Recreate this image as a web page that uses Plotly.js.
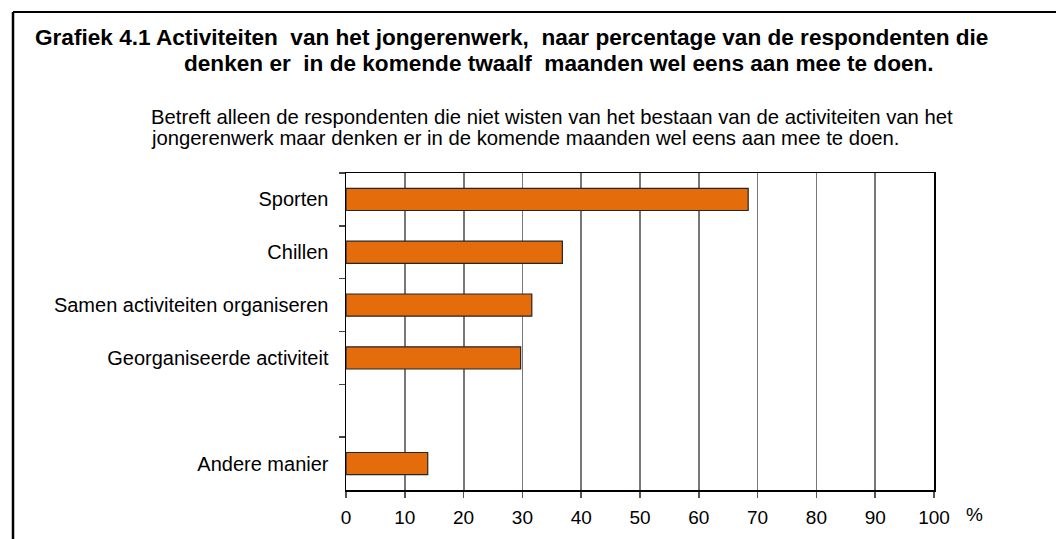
<!DOCTYPE html>
<html>
<head>
<meta charset="utf-8">
<script src="https://cdn.plot.ly/plotly-3.0.1.min.js"></script>
<style>html,body{margin:0;padding:0;background:#fff;}#chart{width:1056px;height:539px;}</style>
</head>
<body>
<div id="chart"></div>
<script>
var categories = ["Sporten", "Chillen", "Samen activiteiten organiseren", "Georganiseerde activiteit", " ", "Andere manier"];
var values = [68.4, 36.8, 31.6, 29.7, null, 13.9];
var xTicks = [0, 10, 20, 30, 40, 50, 60, 70, 80, 90, 100];
var titleLine1 = "Grafiek 4.1 Activiteiten  van het jongerenwerk,  naar percentage van de respondenten die";
var titleLine2 = "denken er  in de komende twaalf  maanden wel eens aan mee te doen.";
var subLine1 = "Betreft alleen de respondenten die niet wisten van het bestaan van de activiteiten van het";
var subLine2 = "jongerenwerk maar denken er in de komende maanden wel eens aan mee te doen.";
var unitLabel = "%";

var W = 1056, H = 539;
var L = 346, R = 934, T = 173, B = 490;
function px(x) { return (x - L) / (R - L); }
function py(y) { return (B - y) / (B - T); }

var font = "Liberation Sans, Arial, sans-serif";

var trace = {
  type: "bar",
  orientation: "h",
  y: categories,
  x: values,
  width: 0.42,
  marker: { color: "#E46C0A", line: { color: "#262626", width: 1.2 } },
  hoverinfo: "skip"
};

var layout = {
  width: W, height: H,
  margin: { l: L, r: W - R, t: T, b: H - B, pad: 0 },
  paper_bgcolor: "#ffffff",
  plot_bgcolor: "#ffffff",
  showlegend: false,
  font: { family: font, size: 19, color: "#000" },
  xaxis: {
    range: [0, 100],
    tickvals: xTicks,
    ticktext: xTicks.map(String),
    showgrid: true,
    gridcolor: "#777777",
    gridwidth: 1.8,
    zeroline: false,
    showline: true,
    linecolor: "#000",
    linewidth: 1.5,
    mirror: true,
    ticks: "outside",
    ticklen: 6,
    tickcolor: "#555",
    tickwidth: 1.5,
    ticklabelstandoff: 4,
    tickfont: { family: font, size: 19, color: "#000" },
    fixedrange: true
  },
  yaxis: {
    type: "category",
    categoryorder: "array",
    categoryarray: categories,
    range: [5.5, -0.5],
    autorange: false,
    tickson: "boundaries",
    ticks: "outside",
    ticklen: 6,
    tickcolor: "#444",
    tickwidth: 1.5,
    showgrid: false,
    showline: true,
    linecolor: "#000",
    linewidth: 1.5,
    mirror: true,
    ticklabelstandoff: 12,
    tickfont: { family: font, size: 20, color: "#000" },
    fixedrange: true
  },
  annotations: [
    { xref: "paper", yref: "paper", x: px(33), y: py(37), xanchor: "left", yanchor: "middle", showarrow: false,
      text: "<b>" + titleLine1 + "</b>", font: { family: font, size: 22.6, color: "#000" } },
    { xref: "paper", yref: "paper", x: px(182), y: py(64), xanchor: "left", yanchor: "middle", showarrow: false,
      text: "<b>" + titleLine2 + "</b>", font: { family: font, size: 22.6, color: "#000" } },
    { xref: "paper", yref: "paper", x: px(149), y: py(117), xanchor: "left", yanchor: "middle", showarrow: false,
      text: subLine1, font: { family: font, size: 20.3, color: "#000" } },
    { xref: "paper", yref: "paper", x: px(149), y: py(138), xanchor: "left", yanchor: "middle", showarrow: false,
      text: subLine2, font: { family: font, size: 20.3, color: "#000" } },
    { xref: "paper", yref: "paper", x: px(964), y: py(514), xanchor: "left", yanchor: "middle", showarrow: false,
      text: unitLabel, font: { family: font, size: 19, color: "#000" } }
  ],
  shapes: [
    { type: "line", xref: "paper", yref: "paper", x0: px(13), x1: px(1060), y0: py(12), y1: py(12),
      line: { color: "#000", width: 2 } },
    { type: "line", xref: "paper", yref: "paper", x0: px(13), x1: px(13), y0: py(12), y1: py(545),
      line: { color: "#000", width: 2.5 } }
  ]
};

Plotly.newPlot("chart", [trace], layout, { displayModeBar: false, staticPlot: true });
</script>
</body>
</html>
